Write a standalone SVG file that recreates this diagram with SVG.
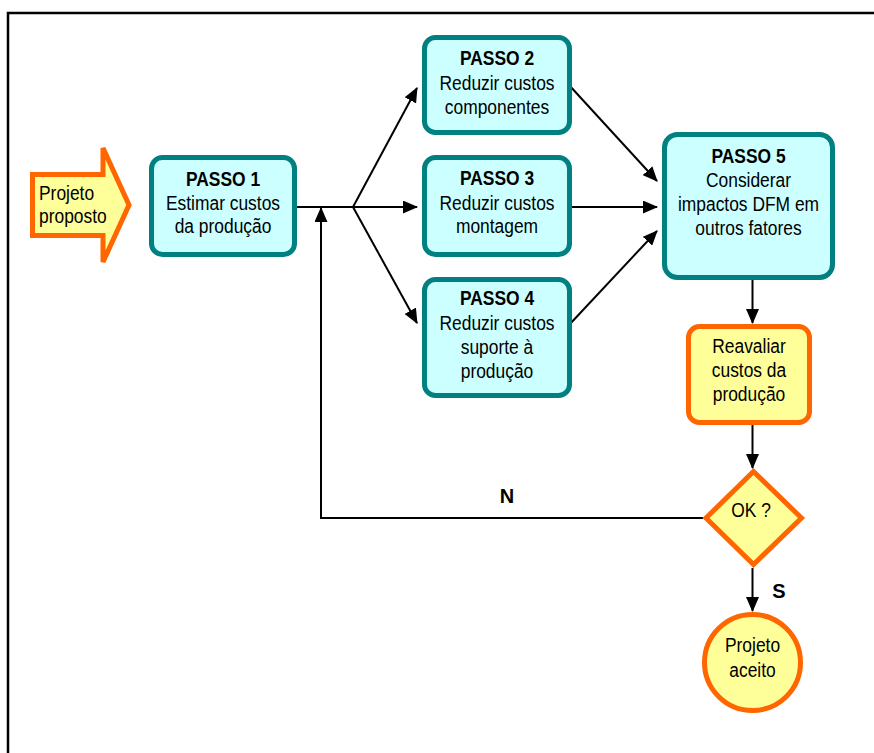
<svg xmlns="http://www.w3.org/2000/svg" width="874" height="753" viewBox="0 0 874 753">
  <defs>
    <marker id="arrow" markerUnits="userSpaceOnUse" markerWidth="15" markerHeight="13" refX="14" refY="6.5" orient="auto">
      <path d="M0,0 L15,6.5 L0,13 z" fill="#000"/>
    </marker>
    <style>
      .step { fill: #CCFFFF; stroke: #008080; stroke-width: 5; }
      .warm { fill: #FFFF99; stroke: #FF6600; stroke-width: 5; }
      .lbl { font-family: "Liberation Sans", Arial, sans-serif; font-size: 20px; fill: #000; text-anchor: middle; }
      .b { font-weight: bold; }
      .conn { fill: none; stroke: #000; stroke-width: 2; }
    </style>
  </defs>

  <rect width="874" height="753" fill="#fff"/>
  <!-- page frame -->
  <path d="M8,753 V13 H874" fill="none" stroke="#000" stroke-width="2.5"/>

  <!-- connectors -->
  <g id="connectors">
    <path class="conn" d="M297,207 H353"/>
    <path class="conn" d="M353,207 L417,88" marker-end="url(#arrow)"/>
    <path class="conn" d="M353,207 H417" marker-end="url(#arrow)"/>
    <path class="conn" d="M353,207 L417,323" marker-end="url(#arrow)"/>
    <path class="conn" d="M569,85 L657,181" marker-end="url(#arrow)"/>
    <path class="conn" d="M572,207 H657" marker-end="url(#arrow)"/>
    <path class="conn" d="M569,325 L657,231" marker-end="url(#arrow)"/>
    <path class="conn" d="M752.5,280 V323" marker-end="url(#arrow)"/>
    <path class="conn" d="M752.5,425 V468" marker-end="url(#arrow)"/>
    <path class="conn" d="M752.5,568 V611" marker-end="url(#arrow)"/>
    <path class="conn" d="M703,518 H321 V208" marker-end="url(#arrow)"/>
    <text class="lbl b" x="507" y="503">N</text>
    <text class="lbl b" x="779" y="598">S</text>
  </g>

  <!-- input arrow -->
  <g id="projeto-proposto">
    <path class="warm" d="M32.5,174.5 H103 V148 L129,205 L103,262 V235.5 H32.5 Z"/>
    <g transform="translate(39 0) scale(0.87 1)">
      <text class="lbl" style="text-anchor:start" x="0" y="200">Projeto</text>
      <text class="lbl" style="text-anchor:start" x="0" y="223">proposto</text>
    </g>
  </g>

  <g id="passo1">
    <rect class="step" x="151.5" y="157.5" width="143" height="97" rx="11"/>
    <g transform="translate(223 0) scale(0.87 1)">
      <text class="lbl b" x="0" y="186">PASSO 1</text>
      <text class="lbl" x="0" y="210">Estimar custos</text>
      <text class="lbl" x="0" y="233">da produção</text>
    </g>
  </g>

  <g id="passo2">
    <rect class="step" x="424.5" y="37.5" width="145" height="95" rx="11"/>
    <g transform="translate(497 0) scale(0.87 1)">
      <text class="lbl b" x="0" y="65">PASSO 2</text>
      <text class="lbl" x="0" y="90">Reduzir custos</text>
      <text class="lbl" x="0" y="114">componentes</text>
    </g>
  </g>

  <g id="passo3">
    <rect class="step" x="424.5" y="157.5" width="145" height="97" rx="11"/>
    <g transform="translate(497 0) scale(0.87 1)">
      <text class="lbl b" x="0" y="185">PASSO 3</text>
      <text class="lbl" x="0" y="210">Reduzir custos</text>
      <text class="lbl" x="0" y="233">montagem</text>
    </g>
  </g>

  <g id="passo4">
    <rect class="step" x="424.5" y="279.5" width="145" height="116" rx="11"/>
    <g transform="translate(497 0) scale(0.87 1)">
      <text class="lbl b" x="0" y="305">PASSO 4</text>
      <text class="lbl" x="0" y="330">Reduzir custos</text>
      <text class="lbl" x="0" y="354">suporte à</text>
      <text class="lbl" x="0" y="378">produção</text>
    </g>
  </g>

  <g id="passo5">
    <rect class="step" x="664.5" y="134.5" width="168" height="143" rx="13"/>
    <g transform="translate(748.5 0) scale(0.87 1)">
      <text class="lbl b" x="0" y="163">PASSO 5</text>
      <text class="lbl" x="0" y="187">Considerar</text>
      <text class="lbl" x="0" y="211">impactos DFM em</text>
      <text class="lbl" x="0" y="235">outros fatores</text>
    </g>
  </g>

  <g id="reavaliar">
    <rect class="warm" x="688.5" y="326.5" width="121" height="96" rx="11"/>
    <g transform="translate(749 0) scale(0.87 1)">
      <text class="lbl" x="0" y="353">Reavaliar</text>
      <text class="lbl" x="0" y="377">custos da</text>
      <text class="lbl" x="0" y="401">produção</text>
    </g>
  </g>

  <g id="ok">
    <path class="warm" d="M753.5,471.5 L801.5,518 L753.5,564.5 L706,518 Z" stroke-width="6"/>
    <g transform="translate(751 0) scale(0.87 1)">
      <text class="lbl" x="0" y="517">OK ?</text>
    </g>
  </g>

  <g id="projeto-aceito">
    <circle class="warm" cx="752.5" cy="662.5" r="48" stroke-width="6"/>
    <g transform="translate(752.5 0) scale(0.87 1)">
      <text class="lbl" x="0" y="652">Projeto</text>
      <text class="lbl" x="0" y="677">aceito</text>
    </g>
  </g>
</svg>
